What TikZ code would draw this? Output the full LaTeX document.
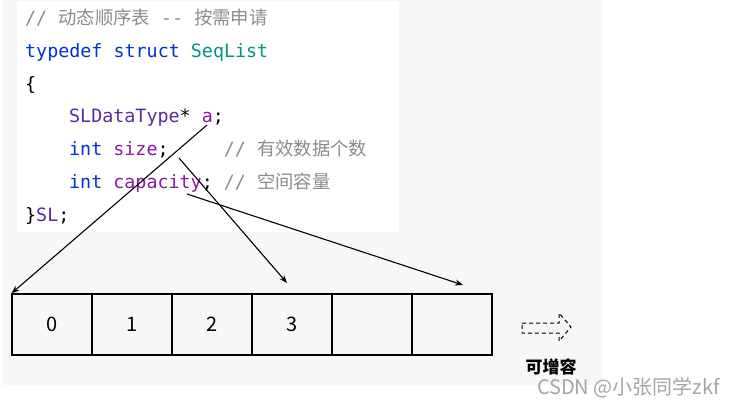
\documentclass[tikz,border=0pt]{standalone}
\usepackage{fontspec}
\usepackage{tikz}
\usetikzlibrary{arrows.meta}
\setmainfont{Noto Sans CJK SC}
\setmonofont{DejaVu Sans Mono}
\newfontfamily\zhfont{Noto Sans CJK SC}
\newcommand{\zh}[1]{{\zhfont #1}}
\definecolor{pagegray}{RGB}{246,247,249}
\definecolor{cmtgray}{RGB}{140,140,140}
\definecolor{kwblue}{RGB}{0,51,204}
\definecolor{typeteal}{RGB}{0,148,133}
\definecolor{typepurple}{RGB}{90,42,160}
\definecolor{mbrpurple}{RGB}{138,26,160}
\definecolor{markgray}{RGB}{165,165,165}

\begin{document}
\begin{tikzpicture}[x=1pt, y=-1pt,
    codeline/.style={anchor=base west, inner sep=0pt, font=\ttfamily\fontsize{18.35}{20}\selectfont},
    cell/.style={draw, line width=1.2pt, minimum width=80pt, minimum height=61pt, inner sep=0pt, font=\fontsize{20}{20}\selectfont},
    ptr/.style={-{Stealth[length=8pt, width=6pt]}, line width=1.1pt}]
    \useasboundingbox (0,0) rectangle (735,408);
    \fill[pagegray] (2,0) rectangle (602,385);
    \fill[white] (17,1) rectangle (399,232);

    \node[codeline] (l1) at (25,24) {\textcolor{cmtgray}{// \zh{动态顺序表} -- \zh{按需申请}}};
    \node[codeline] (l2) at (25,57) {\textcolor{kwblue}{typedef struct} \textcolor{typeteal}{SeqList}};
    \node[codeline] (l3) at (25,90) {\{};
    \node[codeline] (l4) at (69,122) {\textcolor{typepurple}{SLDataType}* \textcolor{mbrpurple}{a};};
    \node[codeline] (l5) at (69,155) {\textcolor{kwblue}{int} \textcolor{mbrpurple}{size};~~~~~\textcolor{cmtgray}{// \zh{有效数据个数}}};
    \node[codeline] (l6) at (69,188) {\textcolor{kwblue}{int} \textcolor{mbrpurple}{capacity}; \textcolor{cmtgray}{// \zh{空间容量}}};
    \node[codeline] (l7) at (25,221) {\}\textcolor{typepurple}{SL};};

    \foreach \i/\t in {0/0,1/1,2/2,3/3,4/{},5/{}}
        \node[cell] (cell\i) at ({52+80*\i},324.5) {\t};

    \coordinate (aptr) at (207,125);
    \coordinate (sizeptr) at (179,158);
    \coordinate (capptr) at (187,194);
    \coordinate (sizeend) at (287,283);
    \coordinate (capend) at (463,285);
    \draw[ptr] (aptr) -- (cell0.north west);
    \draw[ptr] (sizeptr) -- (sizeend);
    \draw[ptr] (capptr) -- (capend);

    \draw[dash pattern=on 4pt off 3pt, line width=1pt]
        (522,323) -- (559,323) -- (559,313) -- (571,327) -- (559,341) -- (559,333) -- (522,333) -- cycle;
    \node[font=\bfseries\fontsize{17}{17}\selectfont, inner sep=0pt] (grow) at (551,367) {可增容};
    \node[font=\fontsize{20}{20}\selectfont, text=markgray, anchor=east, inner sep=0pt] (mark) at (720,388) {CSDN @小张同学zkf};
\end{tikzpicture}
\end{document}
